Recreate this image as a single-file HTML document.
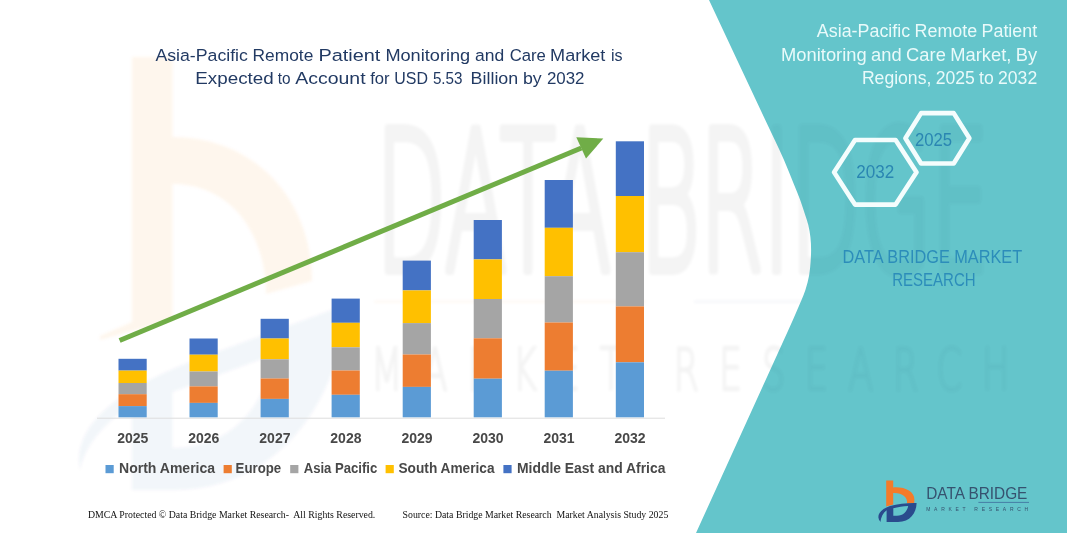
<!DOCTYPE html>
<html lang="en"><head><meta charset="utf-8"><title>Asia-Pacific Remote Patient Monitoring and Care Market</title>
<style>html,body{margin:0;padding:0;background:#fff}body{width:1067px;height:533px;overflow:hidden}svg{display:block}text{font-family:"Liberation Sans",sans-serif}.serif{font-family:"Liberation Serif",serif}.b{font-weight:bold}</style></head><body>
<svg width="1067" height="533" viewBox="0 0 1067 533">
<rect width="1067" height="533" fill="#fff"/>
<defs><filter id="bl" x="-5%" y="-5%" width="110%" height="110%"><feGaussianBlur stdDeviation="1.6"/></filter>
<clipPath id="tc"><path d="M709,0 C718.4,20.0 727.7,40.0 737.1,60 C746.5,80.0 755.9,100.0 765.3,120 C771.5,133.3 778.2,146.5 784,160 C787.6,168.3 790.8,176.7 794.2,185 C796.2,190.0 798.4,194.9 800.2,200 C802.0,204.9 803.6,210.0 805.2,215 C806.3,218.3 807.5,221.6 808.3,225 C809.3,228.9 809.9,233.0 810.4,237 C810.9,241.3 811.1,245.7 811.1,250 C811.1,254.0 810.9,258.0 810.6,262 C810.3,266.3 809.9,270.7 809.2,275 C808.3,280.1 807.0,285.1 805.4,290 C803.2,296.9 800.0,303.4 797.2,310 C794.4,316.7 791.4,323.4 788.4,330 C785.4,336.7 782.3,343.3 779.3,350 C751.5,411.0 723.8,472.0 696,533 L1067,533 L1067,0 Z"/></clipPath></defs>
<g id="wm-left" filter="url(#bl)">
<path d="M132,57 L172.5,57 L172.5,137 C255,137 312,200 312,281 L266,294 C266,235 232,184 172.5,184 L172.5,320 L132,331 L100,340 L100,336 L132,322 Z" fill="#F58220" opacity="0.07"/>
<path d="M80,470 C72,430 110,392 195,360 L345,305 C340,410 270,490 175,490 L132,490 L132,405 C105,422 85,445 80,470 Z M172.5,392 L172.5,448 C225,448 262,415 275,354 Z" fill-rule="evenodd" fill="#2E4C9A" opacity="0.05"/>
</g>
<g id="wm-text" fill="#000" stroke="#000" opacity="0.045" filter="url(#bl)"><g transform="translate(376,269.5) scale(0.473,1)"><text x="0" y="0" font-size="193" style="font-family:'DejaVu Sans',sans-serif;font-weight:200" stroke-width="8" vector-effect="non-scaling-stroke" stroke-linejoin="round">DATA BRIDGE</text></g><g transform="translate(371,390) scale(0.62,1)"><text x="0" y="0" font-size="59" style="font-family:'DejaVu Sans',sans-serif;font-weight:200" stroke-width="2.2" vector-effect="non-scaling-stroke" textLength="1030" lengthAdjust="spacing">MARKET RESEARCH</text></g>
<rect x="374" y="300.5" width="272" height="2.5" fill="#F58220" stroke="none"/><rect x="694" y="300.5" width="310" height="2.5" fill="#2E4C9A" stroke="none"/>
</g>
<path d="M709,0 C718.4,20.0 727.7,40.0 737.1,60 C746.5,80.0 755.9,100.0 765.3,120 C771.5,133.3 778.2,146.5 784,160 C787.6,168.3 790.8,176.7 794.2,185 C796.2,190.0 798.4,194.9 800.2,200 C802.0,204.9 803.6,210.0 805.2,215 C806.3,218.3 807.5,221.6 808.3,225 C809.3,228.9 809.9,233.0 810.4,237 C810.9,241.3 811.1,245.7 811.1,250 C811.1,254.0 810.9,258.0 810.6,262 C810.3,266.3 809.9,270.7 809.2,275 C808.3,280.1 807.0,285.1 805.4,290 C803.2,296.9 800.0,303.4 797.2,310 C794.4,316.7 791.4,323.4 788.4,330 C785.4,336.7 782.3,343.3 779.3,350 C751.5,411.0 723.8,472.0 696,533 L1067,533 L1067,0 Z" fill="#64C5CB"/>
<g clip-path="url(#tc)"><g fill="#0d3a50" stroke="#0d3a50" opacity="0.035" filter="url(#bl)"><g transform="translate(376,269.5) scale(0.473,1)"><text x="0" y="0" font-size="193" style="font-family:'DejaVu Sans',sans-serif;font-weight:200" stroke-width="8" vector-effect="non-scaling-stroke" stroke-linejoin="round">DATA BRIDGE</text></g><g transform="translate(371,390) scale(0.62,1)"><text x="0" y="0" font-size="59" style="font-family:'DejaVu Sans',sans-serif;font-weight:200" stroke-width="2.2" vector-effect="non-scaling-stroke" textLength="1030" lengthAdjust="spacing">MARKET RESEARCH</text></g></g></g>
<g fill="#223A63" font-size="17.2">
<text y="60.6"><tspan x="155.4" textLength="92.5" lengthAdjust="spacingAndGlyphs">Asia-Pacific</tspan> <tspan x="252.6" textLength="60.7" lengthAdjust="spacingAndGlyphs">Remote</tspan> <tspan x="318.4" textLength="61.9" lengthAdjust="spacingAndGlyphs">Patient</tspan> <tspan x="385.4" textLength="84.8" lengthAdjust="spacingAndGlyphs">Monitoring</tspan> <tspan x="475.0" textLength="29.2" lengthAdjust="spacingAndGlyphs">and</tspan> <tspan x="509.7" textLength="36.2" lengthAdjust="spacingAndGlyphs">Care</tspan> <tspan x="550.1" textLength="55.3" lengthAdjust="spacingAndGlyphs">Market</tspan> <tspan x="610.9" textLength="11.6" lengthAdjust="spacingAndGlyphs">is</tspan></text>
<text y="84.4"><tspan x="195.3" textLength="78.4" lengthAdjust="spacingAndGlyphs">Expected</tspan> <tspan x="277.8" textLength="12.8" lengthAdjust="spacingAndGlyphs">to</tspan> <tspan x="295.3" textLength="70.3" lengthAdjust="spacingAndGlyphs">Account</tspan> <tspan x="370.2" textLength="19.4" lengthAdjust="spacingAndGlyphs">for</tspan> <tspan x="394.3" textLength="33.7" lengthAdjust="spacingAndGlyphs">USD</tspan> <tspan x="432.9" textLength="29.6" lengthAdjust="spacingAndGlyphs">5.53</tspan> <tspan x="470.6" textLength="47.6" lengthAdjust="spacingAndGlyphs">Billion</tspan> <tspan x="523.0" textLength="18.7" lengthAdjust="spacingAndGlyphs">by</tspan> <tspan x="546.9" textLength="37.6" lengthAdjust="spacingAndGlyphs">2032</tspan></text>
</g>
<line x1="97" y1="418.2" x2="665" y2="418.2" stroke="#DDDDDD" stroke-width="1"/>
<rect x="118.5" y="358.8" width="28.2" height="11.8" fill="#4472C4"/>
<rect x="118.5" y="370.6" width="28.2" height="12.4" fill="#FFC000"/>
<rect x="118.5" y="383.0" width="28.2" height="11.2" fill="#A5A5A5"/>
<rect x="118.5" y="394.2" width="28.2" height="11.9" fill="#ED7D31"/>
<rect x="118.5" y="406.1" width="28.2" height="11.2" fill="#5B9BD5"/>
<rect x="189.5" y="338.5" width="28.2" height="16.2" fill="#4472C4"/>
<rect x="189.5" y="354.7" width="28.2" height="16.8" fill="#FFC000"/>
<rect x="189.5" y="371.5" width="28.2" height="14.9" fill="#A5A5A5"/>
<rect x="189.5" y="386.4" width="28.2" height="16.5" fill="#ED7D31"/>
<rect x="189.5" y="402.9" width="28.2" height="14.4" fill="#5B9BD5"/>
<rect x="260.6" y="318.8" width="28.2" height="19.7" fill="#4472C4"/>
<rect x="260.6" y="338.5" width="28.2" height="20.8" fill="#FFC000"/>
<rect x="260.6" y="359.3" width="28.2" height="19.2" fill="#A5A5A5"/>
<rect x="260.6" y="378.5" width="28.2" height="20.4" fill="#ED7D31"/>
<rect x="260.6" y="398.9" width="28.2" height="18.4" fill="#5B9BD5"/>
<rect x="331.6" y="298.6" width="28.2" height="24.2" fill="#4472C4"/>
<rect x="331.6" y="322.8" width="28.2" height="24.5" fill="#FFC000"/>
<rect x="331.6" y="347.3" width="28.2" height="23.2" fill="#A5A5A5"/>
<rect x="331.6" y="370.5" width="28.2" height="24.3" fill="#ED7D31"/>
<rect x="331.6" y="394.8" width="28.2" height="22.5" fill="#5B9BD5"/>
<rect x="402.7" y="260.6" width="28.2" height="29.8" fill="#4472C4"/>
<rect x="402.7" y="290.4" width="28.2" height="32.7" fill="#FFC000"/>
<rect x="402.7" y="323.1" width="28.2" height="31.4" fill="#A5A5A5"/>
<rect x="402.7" y="354.5" width="28.2" height="32.4" fill="#ED7D31"/>
<rect x="402.7" y="386.9" width="28.2" height="30.4" fill="#5B9BD5"/>
<rect x="473.7" y="220.0" width="28.2" height="39.4" fill="#4472C4"/>
<rect x="473.7" y="259.4" width="28.2" height="39.6" fill="#FFC000"/>
<rect x="473.7" y="299.0" width="28.2" height="39.3" fill="#A5A5A5"/>
<rect x="473.7" y="338.3" width="28.2" height="40.4" fill="#ED7D31"/>
<rect x="473.7" y="378.7" width="28.2" height="38.6" fill="#5B9BD5"/>
<rect x="544.7" y="180.0" width="28.2" height="47.8" fill="#4472C4"/>
<rect x="544.7" y="227.8" width="28.2" height="48.4" fill="#FFC000"/>
<rect x="544.7" y="276.2" width="28.2" height="46.3" fill="#A5A5A5"/>
<rect x="544.7" y="322.5" width="28.2" height="48.2" fill="#ED7D31"/>
<rect x="544.7" y="370.7" width="28.2" height="46.6" fill="#5B9BD5"/>
<rect x="615.8" y="141.3" width="28.2" height="54.7" fill="#4472C4"/>
<rect x="615.8" y="196.0" width="28.2" height="56.2" fill="#FFC000"/>
<rect x="615.8" y="252.2" width="28.2" height="54.2" fill="#A5A5A5"/>
<rect x="615.8" y="306.4" width="28.2" height="55.9" fill="#ED7D31"/>
<rect x="615.8" y="362.3" width="28.2" height="55.0" fill="#5B9BD5"/>
<g class="b" fill="#484848" font-size="14" text-anchor="middle">
<text x="132.8" y="443.3">2025</text>
<text x="203.8" y="443.3">2026</text>
<text x="274.9" y="443.3">2027</text>
<text x="345.9" y="443.3">2028</text>
<text x="417.0" y="443.3">2029</text>
<text x="488.0" y="443.3">2030</text>
<text x="559.0" y="443.3">2031</text>
<text x="630.1" y="443.3">2032</text>
</g>
<g fill="#70AD47" stroke="none"><path d="M118.6,338.2 L120.6,342.8 L582.4,150.3 L580.4,145.7 Z"/><path d="M603.3,138.6 L576.3,137.3 L586,158.6 Z"/></g>
<g class="b" fill="#484848" font-size="14">
<rect x="105.5" y="465" width="8.2" height="8.2" fill="#5B9BD5"/><text x="119" y="473.4" textLength="96.1" lengthAdjust="spacingAndGlyphs">North America</text>
<rect x="223.6" y="465" width="8.2" height="8.2" fill="#ED7D31"/><text x="235.6" y="473.4" textLength="45.6" lengthAdjust="spacingAndGlyphs">Europe</text>
<rect x="290.2" y="465" width="8.2" height="8.2" fill="#A5A5A5"/><text x="303.7" y="473.4" textLength="73.6" lengthAdjust="spacingAndGlyphs">Asia Pacific</text>
<rect x="385.6" y="465" width="8.2" height="8.2" fill="#FFC000"/><text x="398.5" y="473.4" textLength="96" lengthAdjust="spacingAndGlyphs">South America</text>
<rect x="503.4" y="465" width="8.2" height="8.2" fill="#4472C4"/><text x="517" y="473.4" textLength="148.4" lengthAdjust="spacingAndGlyphs">Middle East and Africa</text>
</g>
<g class="serif" fill="#111" font-size="10">
<text class="serif" x="88" y="518.4" textLength="287.3" lengthAdjust="spacingAndGlyphs" xml:space="preserve">DMCA Protected © Data Bridge Market Research-  All Rights Reserved.</text>
<text class="serif" x="402.6" y="518.4" textLength="265.7" lengthAdjust="spacingAndGlyphs" xml:space="preserve">Source: Data Bridge Market Research  Market Analysis Study 2025</text>
</g>
<g fill="#E9FAFA" font-size="17.5" style="word-spacing:-0.6px">
<text x="816.8" y="37.3" textLength="220.4" lengthAdjust="spacingAndGlyphs">Asia-Pacific Remote Patient</text>
<text x="781.1" y="60.7" textLength="256.1" lengthAdjust="spacingAndGlyphs">Monitoring and Care Market, By</text>
<text x="861.9" y="84.4" textLength="175.3" lengthAdjust="spacingAndGlyphs">Regions, 2025 to 2032</text>
</g>
<polygon points="834.1,172.3 855.0,140.0 895.6,140.0 916.5,172.3 895.6,204.6 855.0,204.6" fill="none" stroke="#F4FDFD" stroke-width="4.6" stroke-linejoin="round"/>
<polygon points="905.4,138.3 921.1,113.1 953.7,113.1 969.4,138.3 953.7,163.5 921.1,163.5" fill="none" stroke="#F4FDFD" stroke-width="4.6" stroke-linejoin="round"/>
<g fill="#2A86B2" font-size="18">
<text x="856.2" y="177.7" textLength="38" lengthAdjust="spacingAndGlyphs">2032</text>
<text x="914.9" y="146.3" textLength="37.2" lengthAdjust="spacingAndGlyphs">2025</text>
</g>
<g fill="#2C8DBA" font-size="17.8">
<text x="842.6" y="262.6" textLength="179.6" lengthAdjust="spacingAndGlyphs">DATA BRIDGE MARKET</text>
<text x="892.2" y="286.4" textLength="83.4" lengthAdjust="spacingAndGlyphs">RESEARCH</text>
</g>
<g id="logo">
<path d="M886.2,480.4 L893.2,480.4 L893.2,487.4 C905,486.6 914.4,491.5 914.4,499.5 L914.2,503 L907,503.6 C908,497 902,492.6 893.2,493 L893.2,504.6 L886.2,506.6 Z" fill="#F47B2A"/>
<path d="M880.4,522 C875.5,515.5 880,509.5 890,506 C898,503.6 908,502.8 916.6,503 C916.4,513 910,522 898,522 L886.6,522 L886.6,510.2 C883,513 881,517 880.4,522 Z M893.3,508.3 C898,507 903,506.2 908.2,506 C907.2,511.5 903,515.8 897,515.8 L893.3,515.8 Z" fill-rule="evenodd" fill="#2A4B8D"/>
<text x="926.2" y="498.8" font-size="16" fill="#36526F" textLength="101.2" lengthAdjust="spacingAndGlyphs">DATA BRIDGE</text>
<line x1="978.4" y1="502.4" x2="1029" y2="502.4" stroke="#3E6C9C" stroke-width="0.8"/>
<text x="926.2" y="511" font-size="5" fill="#36526F" textLength="102" lengthAdjust="spacing">MARKET RESEARCH</text>
</g>
</svg></body></html>
